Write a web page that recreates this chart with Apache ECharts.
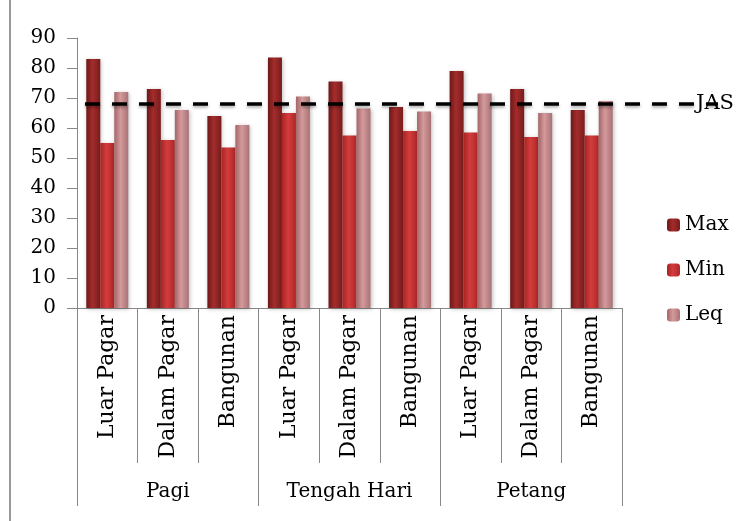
<!DOCTYPE html>
<html><head><meta charset="utf-8">
<script src="https://cdn.jsdelivr.net/npm/echarts@6/dist/echarts.min.js"></script>
<style>html,body{margin:0;padding:0;background:#fff}#c{width:746px;height:521px}</style>
</head><body><div id="c"></div>
<script>
const categories = ['Luar Pagar','Dalam Pagar','Bangunan','Luar Pagar','Dalam Pagar','Bangunan','Luar Pagar','Dalam Pagar','Bangunan'];
const groups = ['Pagi','Tengah Hari','Petang'];
const maxValues = [83, 73, 64, 83.5, 75.5, 67, 79, 73, 66];
const minValues = [55, 56, 53.5, 65, 57.5, 59, 58.5, 57, 57.5];
const leqValues = [72, 66, 61, 70.5, 66.5, 65.5, 71.5, 65, 69];
const jasValue = 68;
const yTicks = {min: 0, max: 90, interval: 10};

const F = 'DejaVu Serif';
function grad(a,b,c){
  return new echarts.graphic.LinearGradient(0,0,1,0,[{offset:0,color:a},{offset:0.45,color:b},{offset:1,color:c}]);
}
const cMax = grad('#6e1818','#a42c2c','#781c1c');
const cMin = grad('#a82424','#d43c3c','#ae2828');
const cLeq = grad('#a46668','#d49a9c','#a87274');
const barStyle = (c)=>({color:c, shadowColor:'rgba(0,0,0,0.25)', shadowBlur:4, shadowOffsetX:1, shadowOffsetY:1});

const chart = echarts.init(document.getElementById('c'));
chart.setOption({
  animation:false,
  backgroundColor:'#fff',
  graphic:[{type:'line', shape:{x1:10,y1:0,x2:10,y2:521}, style:{stroke:'#999',lineWidth:2}}],
  grid:[
    {left:77, right:124, top:38, bottom:213},
    {left:85, right:28, top:38, bottom:213}
  ],
  legend:{
    orient:'vertical', left:662, top:210, itemWidth:13, itemHeight:13, itemGap:25,
    textStyle:{fontFamily:F, fontSize:20, color:'#000'},
    data:['Max','Min','Leq']
  },
  xAxis:[
    {type:'category', gridIndex:0, data:categories, position:'bottom',
     axisLine:{lineStyle:{color:'#888',width:1}},
     axisTick:{show:true, interval:0, length:155, lineStyle:{color:'#888'}},
     axisLabel:{interval:0, rotate:90, margin:7, fontFamily:F, fontSize:22, color:'#000'}},
    {type:'category', gridIndex:0, data:groups, position:'bottom',
     axisLine:{show:false},
     axisTick:{show:true, interval:0, length:198, lineStyle:{color:'#888'}},
     axisLabel:{interval:0, margin:174, fontFamily:F, fontSize:20, color:'#000'}},
    {type:'value', gridIndex:1, min:0, max:1, show:false}
  ],
  yAxis:[
    {type:'value', gridIndex:0, min:yTicks.min, max:yTicks.max, interval:yTicks.interval,
     axisLine:{show:true, lineStyle:{color:'#888'}},
     axisTick:{show:true, length:10, lineStyle:{color:'#888'}},
     splitLine:{show:false},
     axisLabel:{margin:21, fontFamily:F, fontSize:20, color:'#000'}},
    {type:'value', gridIndex:1, min:yTicks.min, max:yTicks.max, show:false}
  ],
  series:[
    {name:'Max', type:'bar', xAxisIndex:0, yAxisIndex:0, data:maxValues, barWidth:14, barGap:'0%', itemStyle:barStyle(cMax)},
    {name:'Min', type:'bar', xAxisIndex:0, yAxisIndex:0, data:minValues, barWidth:14, barGap:'0%', itemStyle:barStyle(cMin)},
    {name:'Leq', type:'bar', xAxisIndex:0, yAxisIndex:0, data:leqValues, barWidth:14, barGap:'0%', itemStyle:barStyle(cLeq)},
    {name:'JAS', type:'line', xAxisIndex:2, yAxisIndex:1, symbol:'none', z:5,
     data:[[0,jasValue],[1,jasValue]],
     lineStyle:{color:'#000', width:3.5, type:[15,12], shadowColor:'rgba(0,0,0,0.3)', shadowBlur:3, shadowOffsetY:2},
     endLabel:{show:true, formatter:'JAS', distance:-22, fontFamily:F, fontSize:21, color:'#000'}}
  ]
});
</script></body></html>
